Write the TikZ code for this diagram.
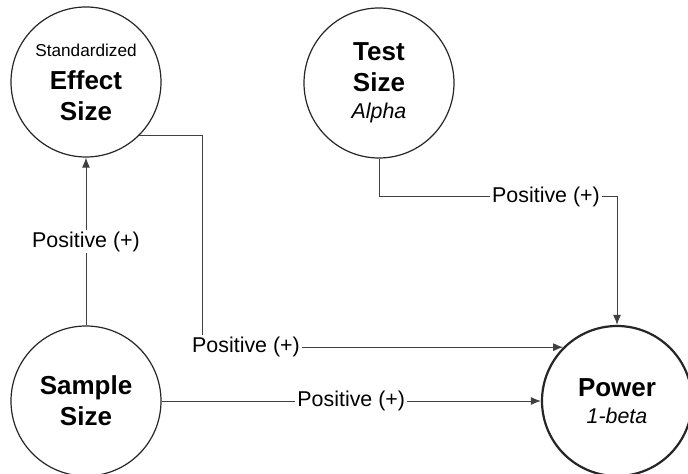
\documentclass[tikz,border=0pt]{standalone}
\usepackage{fontspec}
\setmainfont{Liberation Sans}
\usetikzlibrary{arrows.meta}

\tikzset{
  factor/.style={draw=black!85, circle, line width=0.6pt, minimum size=75pt, inner sep=0pt, align=center, font=\fontsize{13}{15.5}\selectfont\bfseries},
  plusbox/.style={fill=white, inner sep=1pt, font=\fontsize{10.7}{12.5}\selectfont},
  link/.style={draw=black!75, line width=0.5pt},
  arrowto/.style={-{Latex[length=5pt,width=4pt]}}
}

\begin{document}
\begin{tikzpicture}[x=0.5pt, y=-0.5pt]
                \useasboundingbox (0,0) rectangle (688,474);
                \clip (0,0) rectangle (688,474);

                % Factors
                \node[factor] (effect) at (86,82) {{\fontsize{8.6}{10}\mdseries\selectfont Standardized}\\[1pt] Effect\\ Size};
                \node[factor] (test) at (379,83) {Test\\ Size\\[-2pt] {\fontsize{10.7}{12}\mdseries\itshape\selectfont Alpha}};
                \node[factor] (sample) at (86,401) {Sample\\ Size};
                \node[factor, line width=1.1pt] (power) at (617,401) {Power\\[-2pt] {\fontsize{10.7}{12}\mdseries\itshape\selectfont 1-beta}};

                % Effect size -> power
                \coordinate (bend) at (202,136);
                \node[plusbox] (effplus) at (246,0 |- power.135) {Positive (+)};
                \draw[link] (effect.-45) -| (effplus.north -| bend);
                \draw[link, arrowto] (effplus.east) -- (power.135);

                % Test size -> power
                \node[plusbox] (testplus) at (546,197) {Positive (+)};
                \draw[link] (test.south) |- (testplus.west);
                \draw[link, arrowto] (testplus.east) -| (power.north);

                % Sample size -> effect size, power
                \draw[link, arrowto] (sample.north) -- node[plusbox] (sampeff) {Positive (+)} (effect.south);
                \draw[link, arrowto] (sample.east) -- node[plusbox] (samppow) {Positive (+)} (power.west);
            \end{tikzpicture}
\end{document}
